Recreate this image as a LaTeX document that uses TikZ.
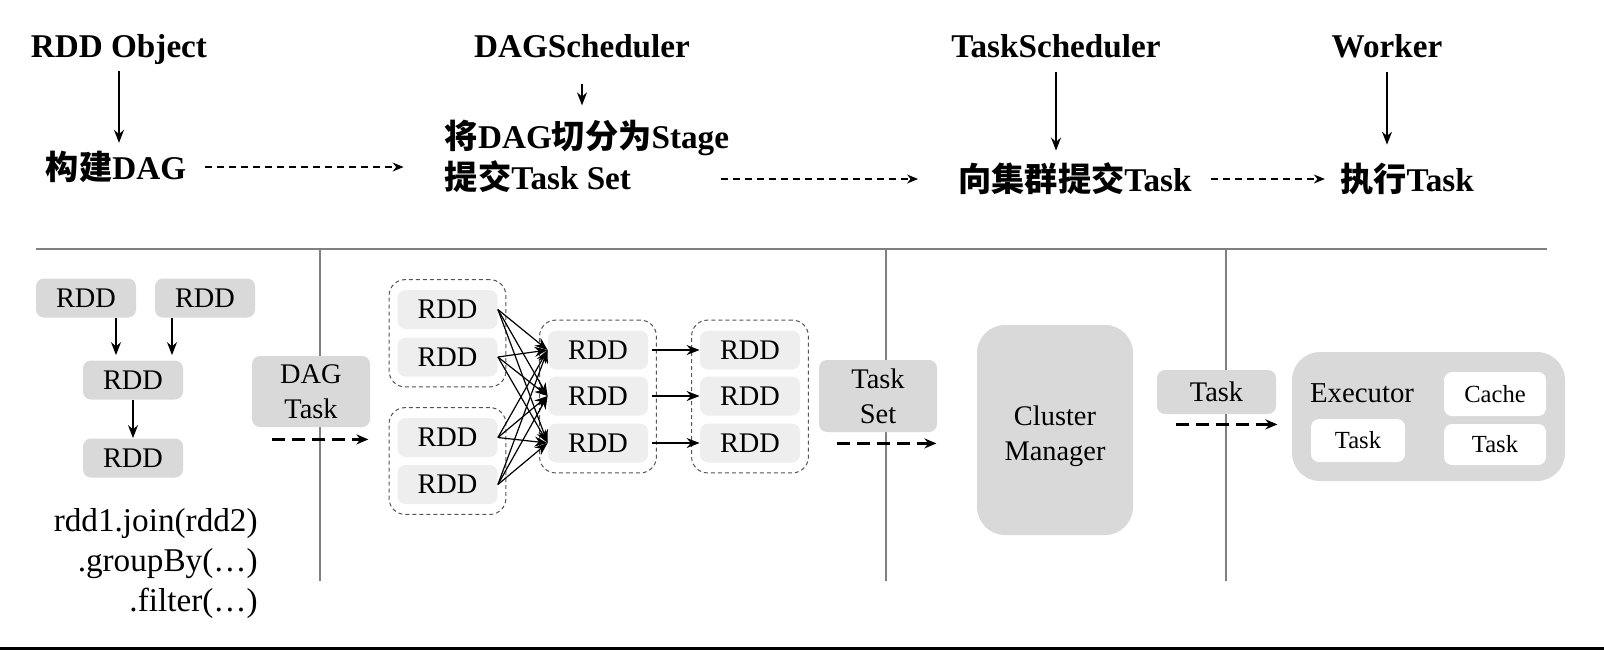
\documentclass[tikz,border=0pt]{standalone}
\usepackage{fontspec}
\setmainfont{Liberation Serif}
\newfontfamily\cjk{Noto Sans CJK SC}
\usetikzlibrary{positioning, fit, arrows.meta}
\newcommand{\zh}[1]{{\cjk #1}}
\definecolor{boxgray}{HTML}{D9D9D9}
\definecolor{rddlight}{HTML}{EEEEEE}
\definecolor{rulegray}{HTML}{808080}
\definecolor{groupline}{HTML}{555555}
\tikzset{headlabel/.style = {font=\fontsize{16.6}{20.5}\selectfont\bfseries, inner sep=2pt}}
\tikzset{rddbox/.style = {fill=boxgray, rounded corners=4pt, minimum width=50pt,
    minimum height=19.5pt, inner sep=0pt, font=\fontsize{14.2}{17.5}\selectfont}}
\tikzset{stagerdd/.style = {rddbox, fill=rddlight}}
\tikzset{stagegroup/.style = {draw=groupline, dash pattern=on 2pt off 1.5pt, line width=0.5pt,
    rounded corners=8pt, inner xsep=4pt, inner ysep=5pt}}
\tikzset{whitebox/.style = {fill=white, rounded corners=4pt, inner sep=0pt,
    font=\fontsize{12.3}{15}\selectfont}}
\tikzset{link/.style = {-{Stealth[length=6.5pt, width=5pt]}, line width=0.7pt}}
\tikzset{flow/.style = {-{Stealth[length=5.5pt, width=4.5pt]}, dash pattern=on 3.5pt off 2.5pt, line width=0.65pt}}
\tikzset{handoff/.style = {-{Stealth[length=6pt, width=5pt]}, dash pattern=on 6.5pt off 3.5pt, line width=1.3pt}}
\tikzset{divider/.style = {draw=rulegray, line width=0.7pt}}

\begin{document}
\begin{tikzpicture}[x=0.5pt, y=-0.5pt]
  \useasboundingbox (0,0) rectangle (1604,650);

  % top row: components and what they do
  \node[headlabel] (rddobj) at (119,50) {RDD Object};
  \node[headlabel] (build) at (116,167) {\zh{构建}DAG};
  \node[headlabel] (dagsched) at (582,46) {DAGScheduler};
  \node[headlabel, align=left] (split) at (587,156)
    {\zh{将}DAG\zh{切分为}Stage\\\zh{提交}Task Set};
  \node[headlabel] (tasksched) at (1056,46) {TaskScheduler};
  \node[headlabel] (submit) at (1075,179) {\zh{向集群提交}Task};
  \node[headlabel] (worker) at (1387,46) {Worker};
  \node[headlabel] (run) at (1407,179) {\zh{执行}Task};

  \draw[link, shorten <=1pt, shorten >=2pt] (rddobj.south) -- (rddobj.south |- build.north);
  \draw[link, shorten <=11pt, shorten >=5pt] (dagsched.south) -- (dagsched.south |- split.north);
  \draw[link, shorten <=5pt, shorten >=4pt] (tasksched.south) -- (tasksched.south |- submit.north);
  \draw[link, shorten <=5pt, shorten >=7pt] (worker.south) -- (worker.south |- run.north);

  \draw[flow, shorten <=7.5pt, shorten >=18.5pt] (build.east) -- (build.east -| split.west);
  \draw[flow, shorten >=18pt] ([xshift=-6pt]split.east |- submit.west) -- (submit.west);
  \draw[flow, shorten <=7.5pt, shorten >=5.5pt] (submit.east) -- (run.west);

  % dividers
  \draw[divider] (36,249) -- (1547,249);
  \foreach \x in {320,886,1226}
    \draw[divider] (\x,249) -- (\x,581);

  % RDD objects
  \node[rddbox] (src1) at (86,298) {RDD};
  \node[rddbox] (src2) at (205,298) {RDD};
  \node[rddbox] (joined) at (133,380) {RDD};
  \node[rddbox] (result) at (133,458) {RDD};
  \draw[link, shorten >=2.5pt] ([xshift=15pt]src1.south) -- ([xshift=15pt]src1.south |- joined.north);
  \draw[link, shorten >=2.5pt] ([xshift=-16.5pt]src2.south) -- ([xshift=-16.5pt]src2.south |- joined.north);
  \draw[link] (joined) -- (result);
  \node[anchor=east, align=right, inner sep=0pt, font=\fontsize{16.6}{20}\selectfont]
    (code) at (258,563) {rdd1.join(rdd2)\\.groupBy(…)\\.filter(…)};

  \node[rddbox, minimum width=59pt, minimum height=35.5pt, align=center] (dagtask)
    at (311,391.5) {DAG\\Task};
  \draw[handoff] ([shift={(20,12)}]dagtask.south west) -- ([shift={(-2,12)}]dagtask.south east);

  % stages
  \node[stagerdd] (a1) at (447.5,309.5) {RDD};
  \node[stagerdd] (a2) at (447.5,357) {RDD};
  \node[stagerdd] (b1) at (447.5,437.5) {RDD};
  \node[stagerdd] (b2) at (447.5,484.5) {RDD};
  \foreach \y [count=\i] in {350,396,443} {
    \node[stagerdd] (c\i) at (598,\y) {RDD};
    \node[stagerdd] (d\i) at (750,\y) {RDD};
  }
  \node[stagegroup, fit=(a1)(a2)] (groupA) {};
  \node[stagegroup, fit=(b1)(b2)] (groupB) {};
  \node[stagegroup, fit=(c1)(c3)] (groupC) {};
  \node[stagegroup, fit=(d1)(d3)] (groupD) {};
  \foreach \s in {a1,a2,b1,b2}
    \foreach \t in {c1,c2,c3}
      \draw[link, line width=0.6pt] (\s.east) -- (\t.west);
  \foreach \i in {1,2,3}
    \draw[link, shorten <=2pt] (c\i.east) -- (d\i.west);

  % task set to cluster
  \node[rddbox, minimum width=59pt, minimum height=36pt, align=center] (taskset)
    at (878,396) {Task\\Set};
  \draw[handoff] ([shift={(18,11)}]taskset.south west) -- ([shift={(-1,11)}]taskset.south east);
  \node[rddbox, minimum width=78pt, minimum height=105pt, rounded corners=14pt] (cluster)
    at (1055,430) {};
  \node[align=center, inner sep=0pt, font=\fontsize{14.2}{17.5}\selectfont] (clustertext)
    at (1055,436) {Cluster\\Manager};

  % task to worker
  \node[rddbox, minimum width=59.5pt, minimum height=22pt] (task) at (1216.5,392) {Task};
  \draw[handoff] ([shift={(19,10)}]task.south west) -- ([shift={(1,10)}]task.south east);
  \node[rddbox, minimum width=136.5pt, minimum height=64.5pt, rounded corners=14pt]
    (executor) at (1428.5,416.5) {};
  \node[font=\fontsize{14.4}{17}\selectfont] (execlabel) at (1362,393) {Executor};
  \node[whitebox, minimum width=51pt, minimum height=22pt] (cache) at (1495,394) {Cache};
  \node[whitebox, minimum width=47pt, minimum height=21.5pt] (task1) at (1358,440.5) {Task};
  \node[whitebox, minimum width=51pt, minimum height=20.5pt] (task2) at (1495,444.5) {Task};

  \draw[line width=1.5pt] (0,648) -- (1604,648);
\end{tikzpicture}
\end{document}
